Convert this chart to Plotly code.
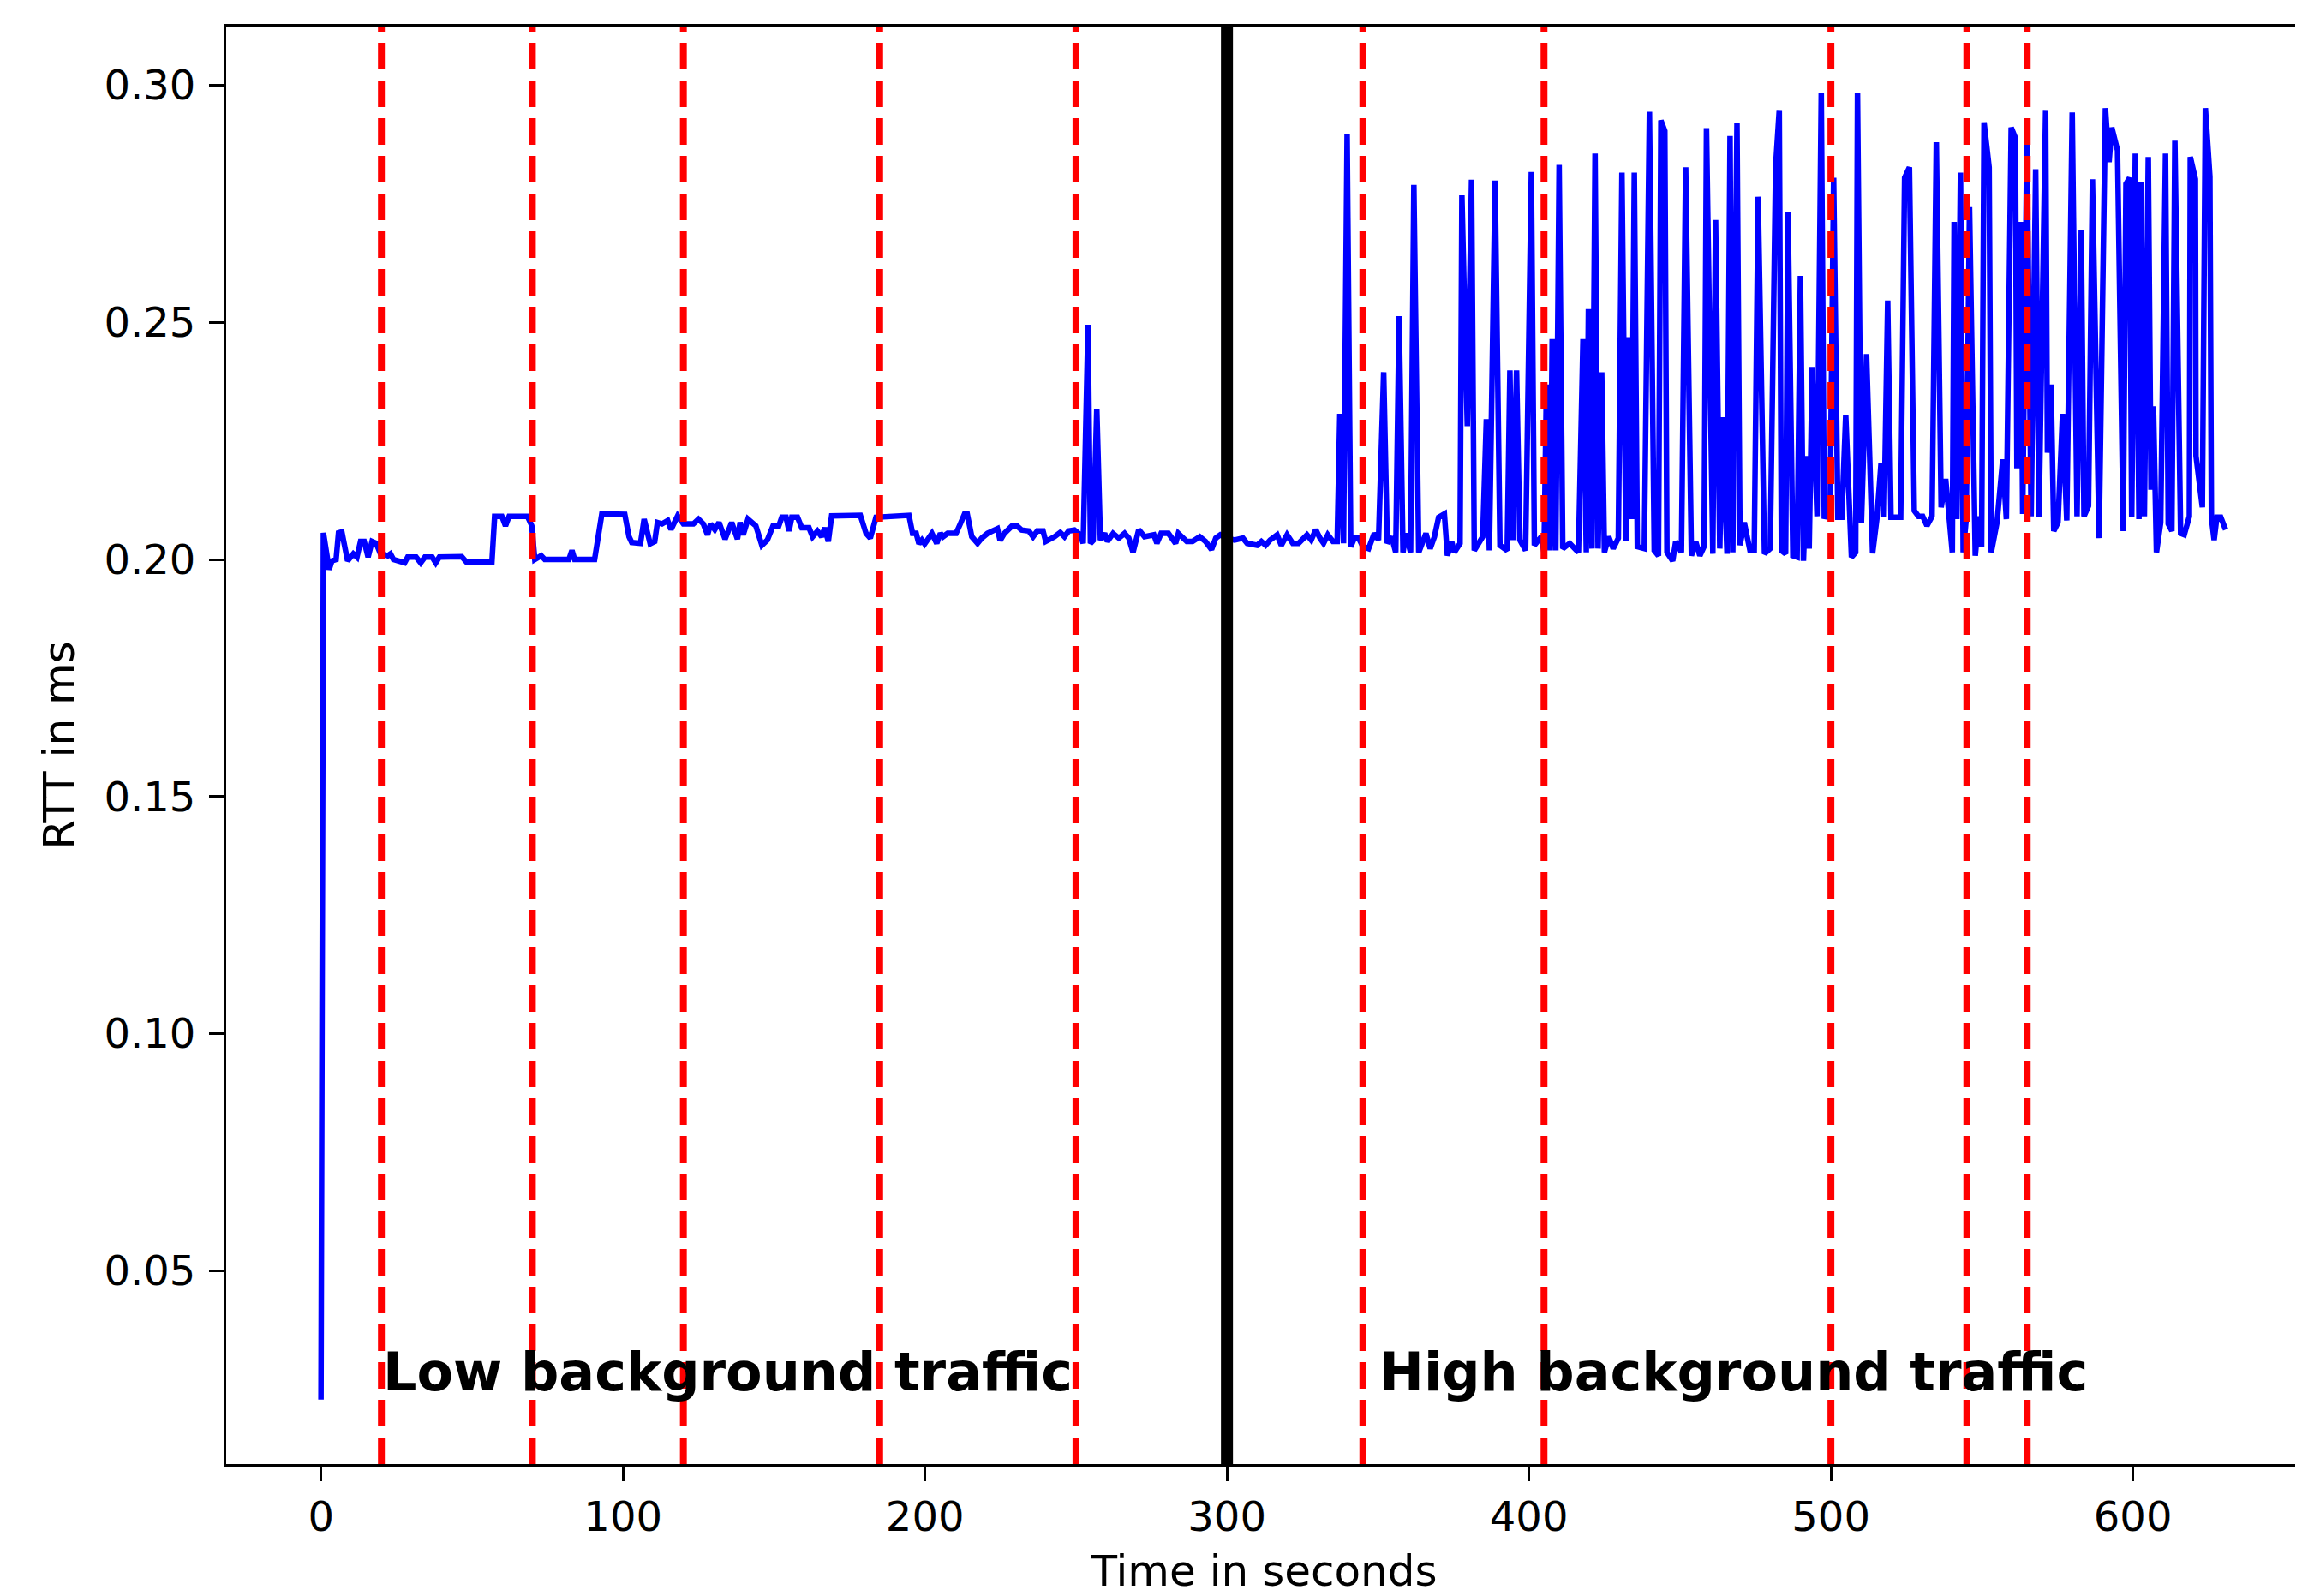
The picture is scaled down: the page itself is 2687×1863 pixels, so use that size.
import plotly.graph_objects as go

# ---- data ----
time_s = [0, 0.8, 2.7, 3.6, 5.0, 5.8, 6.9, 8.8, 10.7, 11.9, 13.1, 14.3, 15.6, 16.9, 18.3, 19.7,
          22.1, 23.0, 24.0, 27.7, 28.7, 31.5, 33.0, 34.4, 36.8, 38.0, 39.2, 46.6, 48.1, 56.6, 57.5,
          59.9, 61.1, 62.3, 68.4, 69.8, 70.8, 72.9, 74.1, 82.1, 83.1, 84.0, 90.6, 93.0, 100.6, 102.0,
          102.9, 105.8, 107.0, 109.0, 110.5, 111.4, 112.9, 114.8, 115.9, 118.1, 120.0, 123.3, 125.0,
          126.6, 128.0, 129.0, 130.4, 131.8, 133.8, 136.0, 137.9, 138.8, 139.8, 141.4, 144.0, 146.0,
          147.8, 149.7, 151.6, 152.6, 154.0, 155.0, 155.9, 157.8, 159.2, 161.6, 162.8, 164.4, 165.8,
          166.8, 168.0, 169.1, 178.6, 180.5, 181.9, 183.8, 194.7, 195.9, 197.1, 198.0, 199.0, 199.9,
          202.3, 203.9, 205.1, 206.0, 207.5, 210.3, 211.7, 213.1, 214.0, 215.5, 217.4, 218.8, 220.7,
          222.6, 224.0, 224.9, 226.3, 228.7, 230.6, 232.0, 234.4, 235.8, 237.2, 239.1, 240.0, 242.9,
          244.8, 246.2, 247.6, 249.5, 251.4, 252.4, 254.0, 254.8, 255.7, 256.9, 258.1, 259.5, 260.4,
          262.3, 264.2, 266.1, 267.5, 268.9, 270.8, 272.7, 274.6, 275.8, 276.8, 278.2, 280.6, 283.0,
          283.9, 286.7, 288.6, 291.0, 292.9, 294.9, 296.3, 297.8, 300.0, 302.5, 305.3, 306.7, 310.0,
          311.4, 312.8, 314.3, 316.6, 318.0, 319.9, 321.8, 323.7, 326.5, 327.9, 329.4, 330.8, 332.0,
          333.4, 335.1, 336.5, 337.4, 338.6, 339.8, 341.0, 342.2, 343.6, 345.0, 346.9, 348.8, 350.2,
          351.9, 353.1, 354.5, 355.9, 357.0, 358.3, 359.2, 360.8, 361.9, 363.5, 365.9, 367.3, 368.7,
          370.1, 372.0, 373.0, 374.4, 375.3, 377.2, 377.8, 379.6, 381.0, 381.9, 384.7, 385.9, 386.9,
          388.8, 390.4, 392.8, 393.7, 394.7, 395.9, 397.0, 398.9, 400.8, 401.8, 404.1, 405.0, 405.8,
          407.0, 407.7, 408.9, 410.0, 411.2, 413.5, 416.4, 417.9, 419.0, 419.7, 420.9, 421.9, 422.9,
          424.1, 425.0, 426.4, 427.9, 429.6, 430.8, 432.1, 433.0, 434.0, 434.9, 435.9, 438.2, 439.9,
          441.5, 442.9, 443.7, 445.0, 445.7, 447.6, 448.6, 450.5, 451.9, 453.8, 455.2, 456.6, 458.0,
          458.8, 460.9, 461.8, 463.2, 464.0, 465.6, 466.6, 467.5, 468.9, 469.9, 471.3, 473.2, 474.6,
          475.9, 478.0, 479.9, 481.7, 482.9, 483.6, 485.0, 485.8, 487.4, 488.8, 489.9, 490.9, 492.1,
          492.8, 493.8, 495.4, 496.8, 497.8, 499.7, 500.9, 502.3, 503.6, 504.9, 506.8, 508.2, 508.8,
          510.1, 511.8, 513.8, 515.2, 516.6, 517.6, 518.8, 519.9, 523.1, 524.4, 526.0, 527.0, 527.6,
          529.0, 530.4, 531.8, 533.5, 534.9, 536.5, 538.0, 538.9, 540.2, 540.8, 541.7, 542.9, 543.8,
          544.8, 545.9, 547.8, 549.0, 549.9, 550.7, 552.4, 553.1, 555.0, 556.9, 558.1, 559.7, 561.1,
          561.6, 562.8, 563.5, 564.9, 566.3, 567.8, 568.9, 571.1, 571.7, 572.9, 573.8, 575.2, 576.7,
          578.1, 579.9, 581.5, 582.9, 583.8, 585.3, 586.6, 588.8, 590.9, 592.1, 593.0, 594.9, 596.8,
          597.7, 598.9, 599.6, 600.8, 602.0, 602.7, 603.8, 605.1, 606.0, 606.8, 607.8, 609.2, 610.8,
          611.7, 612.9, 613.9, 615.8, 617.0, 618.7, 619.0, 620.7, 620.9, 623.0, 624.0, 625.5, 626.0,
          626.9, 627.8, 629.1, 630.7]

rtt_ms = [0.0228, 0.2056, 0.1979, 0.1997, 0.2000, 0.2056, 0.2058, 0.1997, 0.2012, 0.2005, 0.2038, 0.2038,
          0.2005, 0.2038, 0.2034, 0.2012, 0.2008, 0.2012, 0.2000, 0.1993, 0.2005, 0.2005, 0.1993, 0.2005,
          0.2005, 0.1993, 0.2005, 0.2006, 0.1995, 0.1995, 0.2091, 0.2091, 0.2071, 0.2091, 0.2091, 0.2071,
          0.2000, 0.2008, 0.2000, 0.2000, 0.2019, 0.2000, 0.2000, 0.2096, 0.2095, 0.2048, 0.2036, 0.2034,
          0.2085, 0.2033, 0.2038, 0.2078, 0.2075, 0.2082, 0.2063, 0.2092, 0.2075, 0.2075, 0.2085, 0.2075,
          0.2052, 0.2075, 0.2063, 0.2078, 0.2043, 0.2078, 0.2043, 0.2078, 0.2052, 0.2085, 0.2071, 0.2030,
          0.2041, 0.2071, 0.2071, 0.2089, 0.2089, 0.2060, 0.2089, 0.2089, 0.2067, 0.2067, 0.2048, 0.2060,
          0.2048, 0.2067, 0.2038, 0.2092, 0.2093, 0.2055, 0.2045, 0.2089, 0.2093, 0.2055, 0.2055, 0.2033,
          0.2041, 0.2033, 0.2055, 0.2034, 0.2055, 0.2048, 0.2055, 0.2055, 0.2075, 0.2096, 0.2096, 0.2048,
          0.2034, 0.2045, 0.2055, 0.2060, 0.2065, 0.2040, 0.2055, 0.2070, 0.2070, 0.2062, 0.2060, 0.2048,
          0.2060, 0.2060, 0.2038, 0.2048, 0.2057, 0.2048, 0.2060, 0.2062, 0.2052, 0.2034, 0.2495, 0.2034,
          0.2040, 0.2318, 0.2041, 0.2055, 0.2038, 0.2055, 0.2045, 0.2055, 0.2045, 0.2015, 0.2063, 0.2048,
          0.2052, 0.2052, 0.2034, 0.2055, 0.2055, 0.2034, 0.2055, 0.2038, 0.2038, 0.2048, 0.2038, 0.2021,
          0.2045, 0.2052, 0.2045, 0.2041, 0.2045, 0.2034, 0.2030, 0.2038, 0.2030, 0.2041, 0.2052, 0.2030,
          0.2052, 0.2034, 0.2034, 0.2052, 0.2041, 0.2063, 0.2045, 0.2034, 0.2052, 0.2038, 0.2038, 0.2307,
          0.2034, 0.2897, 0.2027, 0.2045, 0.2045, 0.2027, 0.2023, 0.2055, 0.2041, 0.2395, 0.2034, 0.2048,
          0.2015, 0.2513, 0.2015, 0.2055, 0.2015, 0.2790, 0.2015, 0.2055, 0.2023, 0.2048, 0.2089, 0.2096,
          0.2008, 0.2038, 0.2015, 0.2034, 0.2768, 0.2281, 0.2801, 0.2019, 0.2048, 0.2296, 0.2019, 0.2799,
          0.2030, 0.2019, 0.2399, 0.2041, 0.2399, 0.2041, 0.2019, 0.2817, 0.2030, 0.2048, 0.2015, 0.2369,
          0.2019, 0.2465, 0.2019, 0.2832, 0.2023, 0.2034, 0.2015, 0.2465, 0.2015, 0.2528, 0.2023, 0.2856,
          0.2023, 0.2395, 0.2015, 0.2048, 0.2023, 0.2045, 0.2816, 0.2038, 0.2469, 0.2085, 0.2816, 0.2027,
          0.2023, 0.2944, 0.2019, 0.2008, 0.2926, 0.2904, 0.2015, 0.1997, 0.2038, 0.2015, 0.2827, 0.2008,
          0.2038, 0.2008, 0.2027, 0.2910, 0.2012, 0.2716, 0.2023, 0.2300, 0.2012, 0.2893, 0.2015, 0.2920,
          0.2030, 0.2078, 0.2019, 0.2019, 0.2765, 0.2012, 0.2023, 0.2830, 0.2948, 0.2019, 0.2012, 0.2733,
          0.2008, 0.2005, 0.2598, 0.1997, 0.2218, 0.2023, 0.2406, 0.2091, 0.2985, 0.2091, 0.2089, 0.2805,
          0.2089, 0.2089, 0.2304, 0.2005, 0.2015, 0.2984, 0.2078, 0.2433, 0.2013, 0.2085, 0.2203, 0.2089,
          0.2546, 0.2089, 0.2089, 0.2805, 0.2827, 0.2203, 0.2103, 0.2091, 0.2091, 0.2071, 0.2091, 0.2880,
          0.2110, 0.2170, 0.2110, 0.2015, 0.2712, 0.2085, 0.2816, 0.2015, 0.2085, 0.2743, 0.2008, 0.2091,
          0.2027, 0.2922, 0.2827, 0.2015, 0.2078, 0.2211, 0.2085, 0.2911, 0.2889, 0.2192, 0.2712, 0.2096,
          0.2889, 0.2091, 0.2823, 0.2089, 0.2948, 0.2225, 0.2369, 0.2060, 0.2078, 0.2307, 0.2082, 0.2943,
          0.2091, 0.2694, 0.2091, 0.2113, 0.2802, 0.2045, 0.2952, 0.2838, 0.2911, 0.2863, 0.2060, 0.2792,
          0.2805, 0.2089, 0.2856, 0.2085, 0.2797, 0.2091, 0.2849, 0.2147, 0.2323, 0.2015, 0.2078, 0.2856,
          0.2075, 0.2060, 0.2883, 0.2055, 0.2052, 0.2091, 0.2849, 0.2802, 0.2218, 0.2110, 0.2952, 0.2807,
          0.2089, 0.2041, 0.2089, 0.2089, 0.2063]

event_times = [20, 70, 120, 185, 250, 345, 405, 500, 545, 565]
phase_split = 300
phase_labels = ["Low background traffic", "High background traffic"]
phase_label_x = [20, 350]
phase_label_y = 0.0287

x_ticks = [0, 100, 200, 300, 400, 500, 600]
y_ticks = [0.05, 0.10, 0.15, 0.20, 0.25, 0.30]

FONT = "DejaVu Sans"

fig = go.Figure()
fig.add_trace(go.Scatter(x=time_s, y=rtt_ms, mode="lines",
                         line=dict(color="#0000ff", width=6.5), showlegend=False))

for t in event_times:
    fig.add_shape(type="line", x0=t, x1=t, xref="x", y0=0, y1=1, yref="y domain",
                  line=dict(color="#ff0000", width=8, dash="31px,13px"), layer="above")
fig.add_shape(type="line", x0=phase_split, x1=phase_split, xref="x", y0=0, y1=1, yref="y domain",
              line=dict(color="black", width=14), layer="above")

for txt, xx in zip(phase_labels, phase_label_x):
    fig.add_annotation(x=xx, y=phase_label_y, xref="x", yref="y", text="<b>" + txt + "</b>",
                       showarrow=False, xanchor="left", yanchor="middle",
                       font=dict(family=FONT, size=62, color="black"))

fig.update_layout(
    width=2679, height=1855,
    margin=dict(l=256, r=0, t=23, b=154),
    paper_bgcolor="white", plot_bgcolor="white",
    font=dict(family=FONT, color="black"),
    xaxis=dict(range=[-31.4, 656], tickvals=x_ticks, ticktext=[str(v) for v in x_ticks],
               showgrid=False, zeroline=False, showline=True, linecolor="black", linewidth=3,
               mirror=True, ticks="outside", ticklen=17, tickwidth=3, tickcolor="black",
               tickfont=dict(family=FONT, size=48, color="black"), ticklabelstandoff=0,
               automargin=False,
               title=dict(text="Time in seconds", font=dict(family=FONT, size=50, color="black"),
                          standoff=25)),
    yaxis=dict(range=[0.0092, 0.3124], tickvals=y_ticks, ticktext=["%.2f" % v for v in y_ticks],
               showgrid=False, zeroline=False, showline=True, linecolor="black", linewidth=3,
               ticks="outside", ticklen=17, tickwidth=3, tickcolor="black",
               tickfont=dict(family=FONT, size=48, color="black"), ticklabelstandoff=6,
               automargin=False,
               title=dict(text="RTT in ms", font=dict(family=FONT, size=50, color="black"),
                          standoff=20)),
)

fig.write_html("out.html")
